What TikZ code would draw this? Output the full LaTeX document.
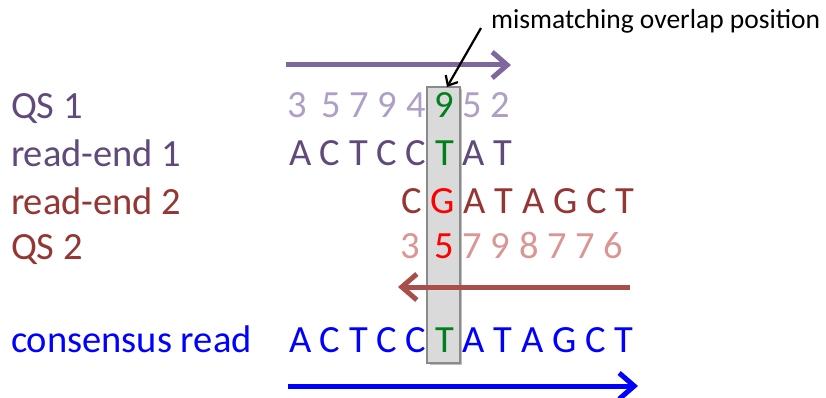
\documentclass[tikz,border=0pt]{standalone}
\usepackage{fontspec}
\setmainfont{Carlito}
\usetikzlibrary{arrows.meta}
\definecolor{purpD}{HTML}{604A7B}
\definecolor{purpL}{HTML}{AE9FC6}
\definecolor{purpA}{HTML}{7E67A0}
\definecolor{redD}{HTML}{943634}
\definecolor{redL}{HTML}{D99694}
\definecolor{redA}{HTML}{A84F4C}
\definecolor{grn}{HTML}{00801A}
\definecolor{boxfill}{HTML}{DADADA}
\definecolor{boxline}{HTML}{8A8A8A}
\newcommand\seqsize{\fontsize{38.5}{40}\selectfont}
\tikzset{
  txt/.style={anchor=base west, inner sep=0pt, outer sep=0pt, font=\seqsize},
  bigarrow/.style={line width=5pt, -{Straight Barb[length=15pt,width=26pt]}},
  note/.style={anchor=base west, inner sep=0pt, font=\fontsize{27.5}{30}\selectfont},
}
\begin{document}
\begin{tikzpicture}[x=1pt,y=-1pt]
\useasboundingbox (0,0) rectangle (826,398);
% highlight column
\fill[black!25] (429.5,89.5) rectangle (462,365);
\draw[boxline, fill=boxfill, line width=1.5pt] (427,87) rectangle (460,363);
% labels
\node[txt, text=purpD] (l1) at (11,119) {QS 1};
\node[txt, text=purpD] (l2) at (11,167) {read-end 1};
\node[txt, text=redD] (l3) at (11,214) {read-end 2};
\node[txt, text=redD] (l4) at (11,259) {QS 2};
\node[txt, text=blue] (l5) at (11,352) {consensus read};
% sequences
\node[txt, text=purpL] (q1a) at (287.5,118) {3};
\node[txt, text=purpL] (q1b) at (321.5,118) {5 7 9 4 \textcolor{grn}{9} 5 2};
\node[txt, text=purpD] (r1) at (289,166) {A C T C C \textcolor{grn}{T} A T};
\node[txt, text=redD] (r2) at (401.5,213) {C \textcolor{red}{G} A T A G C T};
\node[txt, text=redL] (q2a) at (400.5,258) {3};
\node[txt, text=redL] (q2b) at (434.5,258) {\textcolor{red}{5} 7 9 8 7 7 6};
\node[txt, text=blue] (cons) at (289,352) {A C T C C \textcolor{grn}{T} A T A G C T};
% arrows
\coordinate (pa0) at (286,65); \coordinate (pa1) at (511,65);
\draw[bigarrow, purpA] (pa0) -- (pa1);
\coordinate (ba0) at (630,287); \coordinate (ba1) at (398,287);
\draw[bigarrow, redA] (ba0) -- (ba1);
\coordinate (ca0) at (288,386); \coordinate (ca1) at (638,386);
\draw[bigarrow, blue] (ca0) -- (ca1);
% annotation
\node[note] (note) at (491,29) {mismatching overlap position};
\coordinate (na0) at (481,28); \coordinate (na1) at (447,87);
\draw[line width=2.2pt, -{Straight Barb[length=8pt,width=14pt]}] (na0) -- (na1);
\end{tikzpicture}
\end{document}
